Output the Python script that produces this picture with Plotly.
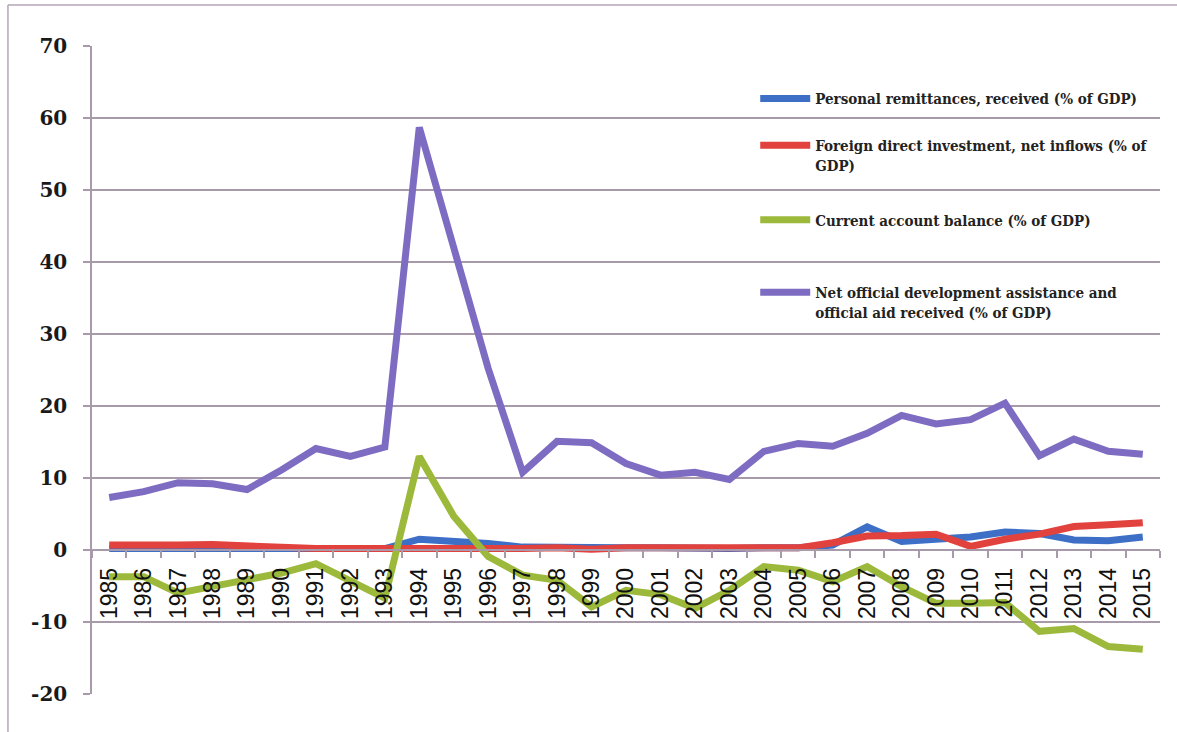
import plotly.graph_objects as go

years = [str(y) for y in range(1985, 2016)]

remittances = [0.2, 0.2, 0.2, 0.2, 0.1, 0.1, 0.1, 0.1, 0.2, 1.5, 1.3,
               0.9, 0.4, 0.3, 0.2, 0.3, 0.3, 0.2, 0.2, 0.3, 0.3,
               0.7, 3.2, 1.2, 1.4, 1.8, 2.5, 2.3, 1.4, 1.3, 1.8]

fdi = [0.7, 0.8, 0.7, 0.75, 0.5, 0.3, 0.2, 0.2, 0.2, 0.0, 0.1,
       0.1, 0.2, 0.3, 0.1, 0.3, 0.3, 0.1, 0.2, 0.3, 0.3,
       1.0, 1.95, 2.0, 2.2, 0.5, 1.5, 2.2, 3.25, 3.5, 3.8]

current_account = [-3.7, -3.7, -6.0, -5.1, -4.2, -3.2, -1.9, -4.4, -6.7, 13.0, 4.7,
                   -0.9, -3.5, -4.2, -7.9, -5.6, -6.2, -8.1, -5.6, -2.3, -2.8,
                   -4.4, -2.3, -5.1, -7.4, -7.4, -7.3, -11.3, -10.9, -13.4, -13.8]

oda = [7.3, 8.1, 9.35, 9.2, 8.4, 11.1, 14.1, 13.0, 14.3, 58.7, 42.0,
       25.2, 10.8, 15.1, 14.9, 12.0, 10.4, 10.8, 9.8, 13.7, 14.8,
       14.4, 16.2, 18.7, 17.5, 18.1, 20.4, 13.1, 15.4, 13.7, 13.3]

y_tick_values = [-20, -10, 0, 10, 20, 30, 40, 50, 60, 70]
y_tick_labels = ["-20", "-10", "0", "10", "20", "30", "40", "50", "60", "70"]

series_names = [
    "Personal remittances, received (% of GDP)",
    "Foreign direct investment, net inflows (% of<br>GDP)",
    "Current account balance (% of GDP)",
    "Net official development assistance and<br>official aid received (% of GDP)",
]
series_values = [remittances, fdi, current_account, oda]
series_colors = ["#3e6fc6", "#e2423d", "#9cb93c", "#7e6cc2"]
legend_ids = ["legend", "legend2", "legend3", "legend4"]
legend_tops = [0.944, 0.872, 0.757, 0.645]

grid_color = "#a99aab"
frame_color = "#b3a6b5"

fig = go.Figure()
for name, vals, color, lid in zip(series_names, series_values, series_colors, legend_ids):
    fig.add_trace(go.Scatter(
        x=years, y=vals, name=name, mode="lines",
        line=dict(color=color, width=7),
        legend=lid,
    ))

legend_common = dict(
    x=0.621, xanchor="left", yanchor="top",
    bgcolor="rgba(0,0,0,0)", borderwidth=0,
    font=dict(family="DejaVu Serif Condensed, Liberation Serif", size=15,
              color="#222222", weight="bold"),
    valign="top", itemwidth=50,
)
layout_legends = {}
for lid, top in zip(legend_ids, legend_tops):
    layout_legends[lid] = dict(legend_common, y=top)

fig.update_layout(
    width=1177, height=732,
    margin=dict(l=92, r=17, t=46, b=38),
    paper_bgcolor="white", plot_bgcolor="white",
    showlegend=True,
    **layout_legends,
    xaxis=dict(
        type="category", range=[-0.5, len(years) - 0.5],
        anchor="free", position=20 / 90,
        showgrid=False, showline=True, linecolor=grid_color, linewidth=1.5,
        ticks="outside", ticklen=7, tickcolor=grid_color, tickwidth=1.5,
        tickson="boundaries", tickangle=-90,
        tickfont=dict(family="Liberation Sans", size=23, color="#111111"),
        ticklabelstandoff=8,
    ),
    yaxis=dict(
        range=[-20, 70], tickvals=y_tick_values, ticktext=y_tick_labels,
        showgrid=True, gridcolor=grid_color, gridwidth=1.5,
        zeroline=False,
        showline=True, linecolor=grid_color, linewidth=1.5,
        ticks="outside", ticklen=7, tickcolor=grid_color, tickwidth=1.5,
        tickfont=dict(family="DejaVu Serif", size=20, color="#1a1a1a", weight="bold"),
        ticklabelstandoff=12,
    ),
    shapes=[
        # frame around the chart: left and top edges
        dict(type="line", xref="paper", yref="paper",
             x0=-0.0787, x1=-0.0787, y0=-0.06, y1=1.0633,
             line=dict(color=frame_color, width=1.5), layer="below"),
        dict(type="line", xref="paper", yref="paper",
             x0=-0.0787, x1=1.0159, y0=1.0633, y1=1.0633,
             line=dict(color=frame_color, width=1.5), layer="below"),
    ],
)

fig.write_html("out.html")
